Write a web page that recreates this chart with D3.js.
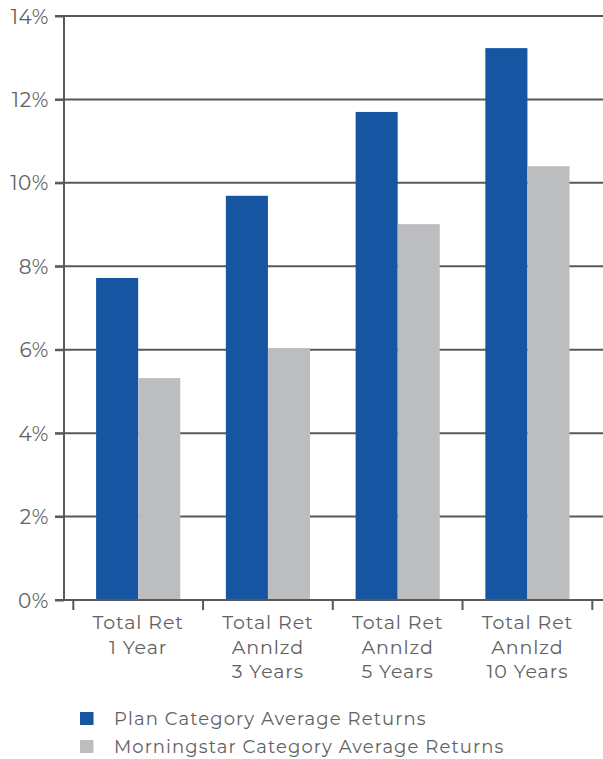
<!DOCTYPE html>
<html><head><meta charset="utf-8">
<script src="https://cdn.jsdelivr.net/npm/d3@7"></script>
<style>body{margin:0;background:#fff}svg{display:block}</style>
</head><body>
<svg id="c" width="603" height="759"></svg>
<script>
const categories = [["Total Ret","1 Year"],["Total Ret","Annlzd","3 Years"],["Total Ret","Annlzd","5 Years"],["Total Ret","Annlzd","10 Years"]];
const planReturns = [7.72, 9.69, 11.70, 13.23];
const morningstarReturns = [5.32, 6.04, 9.01, 10.40];
const seriesNames = ["Plan Category Average Returns","Morningstar Category Average Returns"];
const yTicks = [0,2,4,6,8,10,12,14];

const colors = ["#1655A2","#BCBDBF"];
const textColor = "#616161";
const lineColor = "#595959";
const font = "Montserrat, 'Open Sans', Lato, sans-serif";

const svg = d3.select("#c");
const y = d3.scaleLinear().domain([0,14]).range([600,16]);
const x0 = d3.scaleBand().domain(d3.range(categories.length)).range([73.3,592.3]).paddingInner(0).paddingOuter(0);
const x1 = d3.scaleBand().domain([0,1]).range([22.8, x0.bandwidth()-22.8]);

// gridlines
svg.append("g").selectAll("line").data(yTicks.filter(d=>d>0)).join("line")
  .attr("x1",55).attr("x2",603).attr("y1",d=>y(d)).attr("y2",d=>y(d))
  .attr("stroke",lineColor).attr("stroke-width",2);

// bars
const series = [planReturns, morningstarReturns];
const g = svg.append("g");
series.forEach((vals,si)=>{
  g.selectAll(null).data(vals).join("rect")
    .attr("x",(d,i)=>x0(i)+x1(si)).attr("width",x1.bandwidth())
    .attr("y",d=>y(d)).attr("height",d=>y(0)-y(d)).attr("fill",colors[si]);
});

// y axis
const yAxis = d3.axisLeft(y).tickValues(yTicks).tickFormat(d=>d+"%").tickSize(9).tickPadding(6);
const ya = svg.append("g").attr("transform","translate(64,0)").call(yAxis);
ya.select(".domain").attr("stroke",lineColor).attr("stroke-width",2).attr("d","M0,15V600");
ya.selectAll(".tick line").attr("stroke",lineColor).attr("stroke-width",2);
ya.selectAll(".tick text").attr("fill",textColor).attr("font-family",font).attr("font-size",20)
  .attr("letter-spacing","0.6px").attr("dy","0.35em");

// x axis baseline
svg.append("line").attr("x1",55).attr("x2",603).attr("y1",y(0)).attr("y2",y(0)).attr("stroke",lineColor).attr("stroke-width",2);
// x ticks at band edges
const edges = d3.range(categories.length+1).map(i=> i<categories.length ? x0(i) : x0(i-1)+x0.bandwidth());
svg.append("g").selectAll("line").data(edges).join("line")
  .attr("x1",d=>d).attr("x2",d=>d).attr("y1",y(0)).attr("y2",y(0)+10)
  .attr("stroke",lineColor).attr("stroke-width",2);
// x labels
categories.forEach((lines,i)=>{
  const cx = x0(i)+x0.bandwidth()/2;
  const t = svg.append("text").attr("x",cx).attr("y",629)
    .attr("text-anchor","middle").attr("fill",textColor).attr("font-family",font).attr("font-size",19)
    .attr("letter-spacing","0.9px");
  lines.forEach((l,j)=>t.append("tspan").attr("x",cx).attr("dy",j===0?0:24.5).text(l));
});

// legend
seriesNames.forEach((n,i)=>{
  const yy = 712 + i*28;
  svg.append("rect").attr("x",80).attr("y",yy).attr("width",13.5).attr("height",13).attr("fill",colors[i]);
  svg.append("text").attr("x",114).attr("y",yy+6.5).attr("dy","0.35em").attr("fill",textColor)
    .attr("font-family",font).attr("font-size",18).attr("letter-spacing","1.1px").text(n);
});
</script>
</body></html>
